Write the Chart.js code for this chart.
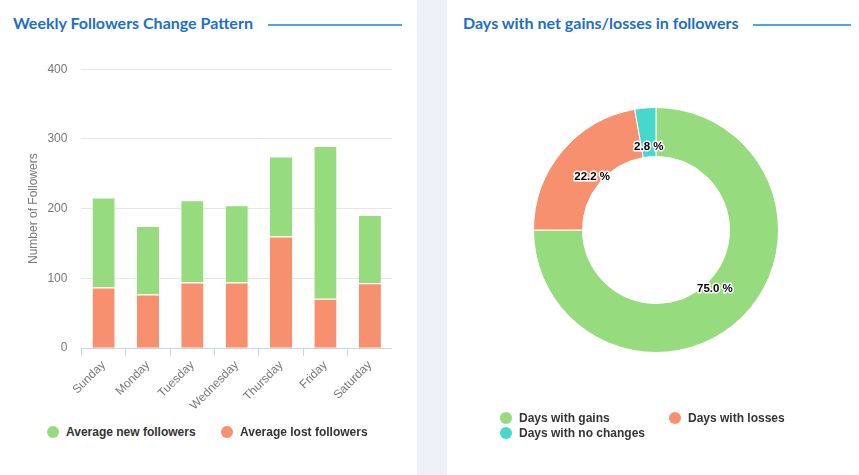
<!DOCTYPE html>
<html>
<head>
<meta charset="utf-8">
<script src="https://cdn.jsdelivr.net/npm/chart.js@4"></script>
<style>
  html, body { margin:0; padding:0; }
  body { width:859px; height:475px; background:#eaf2f7; position:relative; overflow:hidden; font-family:"Liberation Sans", Arial, sans-serif; }
  .panel { position:absolute; top:0; height:475px; background:#fff; }
  #p1 { left:0; width:417px; }
  #p2 { left:447px; width:412px; }
  .title { position:absolute; top:13px; font-family:Lato, sans-serif; font-weight:bold; font-size:16px; color:#1c6fc7; white-space:nowrap; }
  .tline { position:absolute; top:24px; height:2px; background:#4ea4ea; }
  .box { position:absolute; }
  .leg { position:absolute; font-weight:bold; font-size:12px; color:#333; }
  #leg1 { left:47px; top:425px; width:360px; }
  #leg2 { left:500px; top:411px; width:320px; }
  .li { position:absolute; white-space:nowrap; line-height:15px; }
  .dot { display:inline-block; width:12px; height:12px; border-radius:50%; vertical-align:-2px; margin-right:7px; }
</style>
</head>
<body>
<div class="panel" id="p1"></div>
<div class="panel" id="p2"></div>
<div class="title" style="left:13px">Weekly Followers Change Pattern</div>
<div class="tline" style="left:268px;width:134px"></div>
<div class="title" style="left:463px">Days with net gains/losses in followers</div>
<div class="tline" style="left:753px;width:98px"></div>
<div class="box" style="left:26px;top:48px;width:366px;height:367px"><canvas id="c1"></canvas></div>
<div class="box" style="left:460px;top:107px;width:392px;height:246px"><canvas id="c2"></canvas></div>
<div class="leg" id="leg1"></div>
<div class="leg" id="leg2"></div>
<script>
const days = ["Sunday","Monday","Tuesday","Wednesday","Thursday","Friday","Saturday"];
const newFollowers = [129, 98, 118, 111, 115, 219, 98];
const lostFollowers = [87, 77, 94, 94, 160, 71, 93];
const yTicks = [0, 100, 200, 300, 400];

const dayTypes = ["Days with gains", "Days with losses", "Days with no changes"];
const dayCounts = [27, 8, 1];

const GREEN = "#96db7e", RED = "#f7906f", TEAL = "#46d9cb";

const c1 = new Chart(document.getElementById("c1"), {
  type: "bar",
  data: {
    labels: days,
    datasets: [
      { label: "Average lost followers", data: lostFollowers, backgroundColor: RED, borderColor: "#fff", borderWidth: {top:1}, borderSkipped: "bottom" },
      { label: "Average new followers", data: newFollowers, backgroundColor: GREEN, borderColor: "#fff", borderWidth: {top:1}, borderSkipped: "bottom" }
    ]
  },
  options: {
    responsive: true, maintainAspectRatio: false, animation: false,
    datasets: { bar: { barPercentage: 0.5, categoryPercentage: 1 } },
    layout: { padding: 0 },
    plugins: { tooltip: { enabled: false }, legend: { display: false } },
    scales: {
      x: {
        stacked: true,
        grid: { display: true, drawOnChartArea: false, drawTicks: true, tickLength: 8, color: "#c9d3e3", offset: true },
        border: { color: "#c9d3e3" },
        ticks: { color: "#777", padding: 2, font: { family: "Liberation Sans", size: 12 }, maxRotation: 45, minRotation: 45 }
      },
      y: {
        stacked: true, min: yTicks[0], max: yTicks[yTicks.length-1],
        afterBuildTicks: (s) => { s.ticks = yTicks.map(v => ({ value: v })); },
        grid: { color: "#e4e6ea", drawTicks: false },
        border: { display: false },
        ticks: { color: "#777", padding: 14, font: { family: "Liberation Sans", size: 12 } },
        title: { display: true, text: "Number of Followers", color: "#777", font: { family: "Liberation Sans", size: 12 }, padding: { top: 0, bottom: -7 } }
      }
    }
  }
});

const arcLabels = {
  id: "arcLabels",
  afterDatasetsDraw(chart) {
    const ctx = chart.ctx;
    const meta = chart.getDatasetMeta(0);
    const data = chart.data.datasets[0].data;
    const total = data.reduce((a, b) => a + b, 0);
    ctx.save();
    ctx.font = "bold 11.5px 'Liberation Sans', Arial";
    ctx.textAlign = "center";
    ctx.textBaseline = "middle";
    meta.data.forEach((arc, i) => {
      const p = arc.getProps(["x","y","startAngle","endAngle","innerRadius","outerRadius"], true);
      const a = (p.startAngle + p.endAngle) / 2;
      const r = p.innerRadius + (p.outerRadius - p.innerRadius) * 0.2;
      const x = p.x + Math.cos(a) * r, y = p.y + Math.sin(a) * r;
      const t = (data[i] / total * 100).toFixed(1) + " %";
      ctx.lineWidth = 3; ctx.strokeStyle = "#fff"; ctx.lineJoin = "round";
      ctx.strokeText(t, x, y);
      ctx.fillStyle = "#000";
      ctx.fillText(t, x, y);
    });
    ctx.restore();
  }
};

const c2 = new Chart(document.getElementById("c2"), {
  type: "doughnut",
  data: { labels: dayTypes, datasets: [{ data: dayCounts, backgroundColor: [GREEN, RED, TEAL], borderColor: "#fff", borderWidth: 1 }] },
  options: {
    responsive: true, maintainAspectRatio: false, animation: false, cutout: "60%",
    plugins: { legend: { display: false }, tooltip: { enabled: false } }
  },
  plugins: [arcLabels]
});

// HTML legends built from the charts' labels/colours
function buildLegend(el, items, pos) {
  items.forEach((it, i) => {
    const d = document.createElement("div");
    d.className = "li";
    d.style.left = pos[i][0] + "px"; d.style.top = pos[i][1] + "px";
    d.innerHTML = '<span class="dot" style="background:' + it.color + '"></span>' + it.text;
    el.appendChild(d);
  });
}
buildLegend(document.getElementById("leg1"),
  [c1.data.datasets[1], c1.data.datasets[0]].map(d => ({ text: d.label, color: d.backgroundColor })),
  [[0,0],[174,0]]);
buildLegend(document.getElementById("leg2"),
  c2.data.labels.map((l, i) => ({ text: l, color: c2.data.datasets[0].backgroundColor[i] })),
  [[0,0],[169,0],[0,15]]);
</script>
</body>
</html>
